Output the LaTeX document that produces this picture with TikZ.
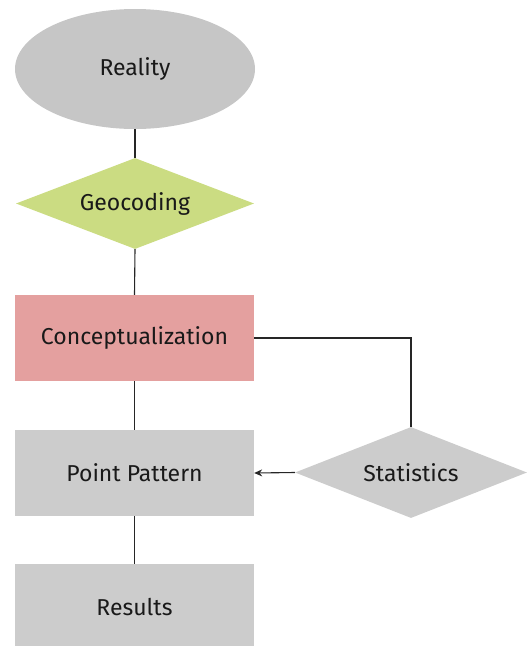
\documentclass[tikz,border=0pt]{standalone}
\usepackage{fontspec}
\setmainfont{Fira Sans}
\usetikzlibrary{shapes.geometric,arrows.meta}
\definecolor{greyfill}{HTML}{CCCCCC}
\definecolor{ellfill}{HTML}{C6C6C6}
\definecolor{greenfill}{HTML}{CBDC82}
\definecolor{pinkfill}{HTML}{E4A09F}
\begin{document}
\begin{tikzpicture}[x=1pt,y=-1pt,
  lbl/.style={font=\fontsize{23}{27}\selectfont, text=black!90},
  boxnode/.style={lbl, rectangle, draw=none, minimum width=239pt, minimum height=86pt, inner sep=0pt},
  dia/.style={lbl, diamond, draw=none, inner sep=0pt},
  conn/.style={draw=black!85, line width=1.1pt}]
\useasboundingbox (0,0) rectangle (527,646);
\node[lbl, ellipse, fill=ellfill, minimum width=240pt, minimum height=120pt, inner sep=0pt] (reality) at (135,69) {Reality};
\node[dia, fill=greenfill, minimum width=238pt, minimum height=91pt, aspect=2.6] (geo) at (135,203.5) {};
\node[lbl] at (geo.center) {Geocoding};
\node[boxnode, fill=pinkfill] (concept) at (134.5,338) {Conceptualization};
\node[boxnode, fill=greyfill] (point) at (134.5,473) {Point Pattern};
\node[boxnode, fill=greyfill] (results) at (134.5,607) {Results};
\node[dia, fill=greyfill, minimum width=232pt, minimum height=91pt, aspect=2.55] (stats) at (411,472.5) {};
\node[lbl] at (stats.center) {Statistics};
\draw[conn] (reality.south) -- (geo.north);
\draw[conn] (geo.south) -- (concept.north);
\draw[conn] (concept.south) -- (point.north);
\draw[conn] (point.south) -- (results.north);
\draw[conn] (concept.east) -| (stats.north);
\draw[conn, -{Stealth[length=8pt,width=7pt]}] (stats.west) -- (point.east);
\end{tikzpicture}
\end{document}
